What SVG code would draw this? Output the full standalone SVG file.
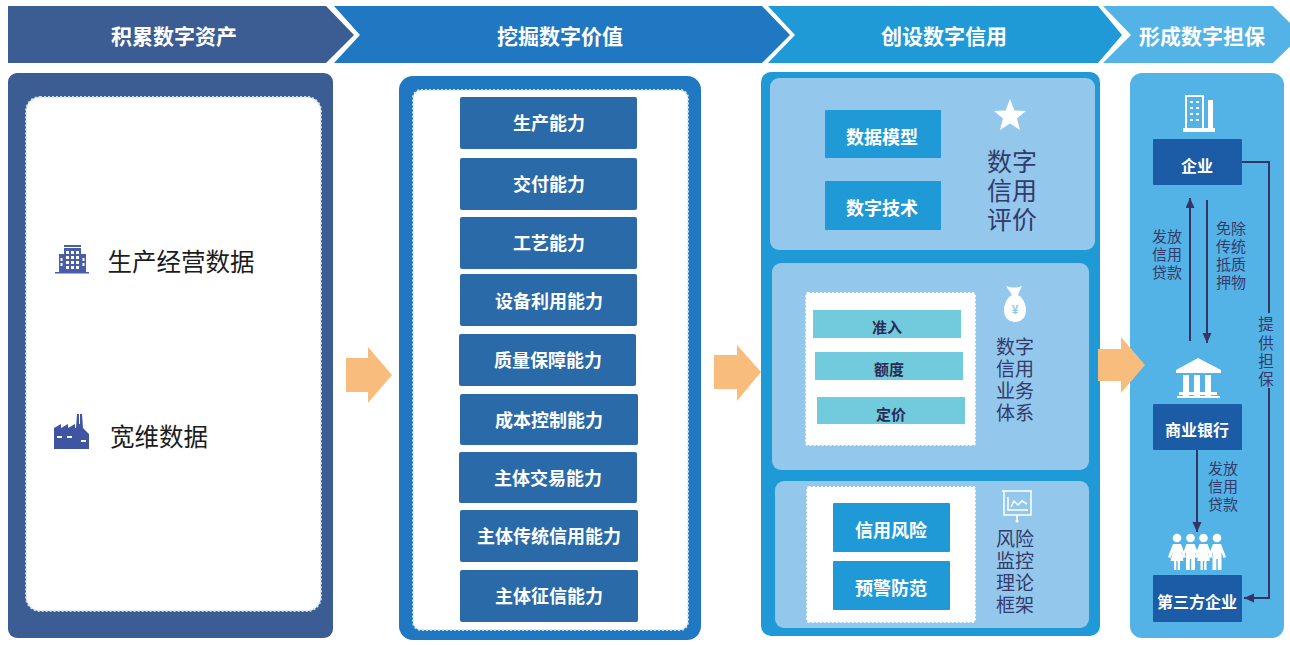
<svg xmlns="http://www.w3.org/2000/svg" width="1290" height="645" viewBox="0 0 1290 645">
<style>
text{font-family:"Liberation Sans","Noto Sans CJK SC",sans-serif;text-anchor:middle}
.h{fill:#fff;font-size:21px;font-weight:700}
.b{fill:#fff;font-size:18px;font-weight:700}
.s{fill:#fff;font-size:16px;font-weight:700}
.bar{fill:#2a6aa9}
.blue{fill:#1f9ad6}
.pale{fill:#93c8ec}
.teal{fill:#71cbdc}
.navy{fill:#1c5ca6}
.w{fill:#fff}
.dash{fill:#fff;stroke:#cfe3f3;stroke-width:2;stroke-dasharray:2 2}
.dash2{fill:#fff;stroke:#fff;stroke-width:2;stroke-dasharray:2 2}
.t1{font-size:24.500px;fill:#1c1c1c}
.t2{font-size:25px;fill:#343a6b}
.t3{font-size:19px;fill:#343a6b}
.t4{font-size:15px;fill:#343a6b}
.t6{font-size:15.500px;fill:#343a6b}
.t5{font-size:15px;font-weight:700;fill:#2a2c56}
.line{fill:none;stroke:#343565;stroke-width:2}
.or{fill:#f8bd7d}
</style>
<defs>
<marker id="ah" markerWidth="12" markerHeight="10" refX="10" refY="4.500" orient="auto" markerUnits="userSpaceOnUse"><path d="M0 0L10 4.500L0 9Z" fill="#343565"/></marker>
</defs>

<g id="header-1"><path d="M8 6H326L354 35L326 63H8Z" fill="#3c5c94"/><text class="h" x="174" y="44">积累数字资产</text></g>
<g id="header-2"><path d="M334 6H762L790 35L762 63H334L360 35Z" fill="#1f78c1"/><text class="h" x="560" y="44">挖掘数字价值</text></g>
<g id="header-3"><path d="M768 6H1098L1122 35L1098 63H768L795 35Z" fill="#1f9ad6"/><text class="h" x="944" y="44">创设数字信用</text></g>
<g id="header-4"><path d="M1103 6H1273L1302 35L1273 63H1103L1131 35Z" fill="#54b3e6"/><text class="h" x="1202" y="44">形成数字担保</text></g>

<g id="panel-assets">
<rect x="8" y="73" width="325" height="565" rx="9" fill="#3c5c94"/>
<rect class="dash" x="26" y="97" width="295" height="514" rx="14"/>
<g id="icon-building" fill="#4a5ea8">
<rect x="64" y="245" width="17" height="2"/><rect x="64" y="248" width="17" height="24"/><rect x="59" y="254" width="5" height="18"/><rect x="81" y="254" width="5" height="18"/><rect x="55" y="272" width="34" height="1.500"/>
<path d="M66 251h3v3h-3zM71 251h3v3h-3zM76 251h3v3h-3zM66 256h3v3h-3zM71 256h3v3h-3zM76 256h3v3h-3zM66 261h3v3h-3zM71 261h3v3h-3zM76 261h3v3h-3zM66 266h3v3h-3zM71 266h3v3h-3zM76 266h3v3h-3zM60.500 258h2v3h-2zM60.500 263h2v3h-2zM82.500 258h2v3h-2zM82.500 263h2v3h-2z" fill="#fff"/>
</g>
<text class="t1" x="181" y="271">生产经营数据</text>
<g id="icon-factory" fill="#3f55a4">
<path d="M54 449V428L61 424V428L68 424V428L75 424V428H76L77 414H79V424H80V414H82L83 428L89 434V449Z"/>
<path d="M57 436h5v2h-5zM67 436h5v2h-5zM81 440h5v2h-5z" fill="#fff"/>
</g>
<text class="t1" x="159" y="446">宽维数据</text>
</g>

<g id="panel-value">
<rect x="399" y="76" width="302" height="564" rx="14" fill="#1f78c1"/>
<rect class="dash" x="413" y="90" width="275" height="540" rx="8"/>
<g id="cap-1"><rect class="bar" x="460" y="97" width="177" height="52" rx="2"/><text class="b" x="549" y="130">生产能力</text></g>
<g id="cap-2"><rect class="bar" x="460" y="158" width="177" height="52" rx="2"/><text class="b" x="549" y="191">交付能力</text></g>
<g id="cap-3"><rect class="bar" x="460" y="217" width="177" height="52" rx="2"/><text class="b" x="549" y="250">工艺能力</text></g>
<g id="cap-4"><rect class="bar" x="460" y="274" width="177" height="52" rx="2"/><text class="b" x="549" y="308">设备利用能力</text></g>
<g id="cap-5"><rect class="bar" x="459" y="334" width="177" height="52" rx="2"/><text class="b" x="548" y="367">质量保障能力</text></g>
<g id="cap-6"><rect class="bar" x="460" y="394" width="178" height="51" rx="2"/><text class="b" x="549" y="427">成本控制能力</text></g>
<g id="cap-7"><rect class="bar" x="459" y="452" width="178" height="51" rx="2"/><text class="b" x="548" y="485">主体交易能力</text></g>
<g id="cap-8"><rect class="bar" x="460" y="510" width="178" height="52" rx="2"/><text class="b" x="549" y="543">主体传统信用能力</text></g>
<g id="cap-9"><rect class="bar" x="460" y="570" width="178" height="52" rx="2"/><text class="b" x="549" y="603">主体征信能力</text></g>
</g>

<g id="panel-credit">
<rect x="761" y="72" width="339" height="564" rx="10" class="blue"/>
<g id="credit-eval">
<rect class="pale" x="770" y="78" width="325" height="172" rx="9"/>
<rect class="blue" x="825" y="110" width="116" height="48" rx="1"/><text class="b" x="882" y="144">数据模型</text>
<rect class="blue" x="825" y="181" width="116" height="49" rx="1"/><text class="b" x="882" y="215">数字技术</text>
<path class="w" d="M1010 99L1014.500 110.500L1026 111L1017 118.500L1020 130L1010 123.500L1000 130L1003 118.500L994 111L1005.500 110.500Z"/>
<text class="t2"><tspan x="1012" y="171">数字</tspan><tspan x="1012" y="200">信用</tspan><tspan x="1012" y="229">评价</tspan></text>
</g>
<g id="credit-business">
<rect class="pale" x="772" y="263" width="317" height="207" rx="9"/>
<rect class="dash2" x="806" y="293" width="169" height="152" rx="2"/>
<rect class="teal" x="813" y="310" width="148" height="28"/><text class="t5" x="887" y="333">准入</text>
<rect class="teal" x="815" y="352" width="148" height="28"/><text class="t5" x="889" y="375">额度</text>
<rect class="teal" x="817" y="397" width="148" height="27"/><text class="t5" x="891" y="420">定价</text>
<path class="w" d="M1006 286Q1014 289 1022 286L1018 295L1021 297Q1026 303 1026 310Q1026 321 1015 322Q1004 321 1004 310Q1004 303 1009 297L1012 295Z"/>
<text x="1015" y="314" font-size="12" font-weight="700" fill="#93c8ec">¥</text>
<text class="t3"><tspan x="1015" y="354">数字</tspan><tspan x="1015" y="376">信用</tspan><tspan x="1015" y="398">业务</tspan><tspan x="1015" y="420">体系</tspan></text>
</g>
<g id="credit-risk">
<rect class="pale" x="775" y="481" width="314" height="147" rx="9"/>
<rect class="dash2" x="807" y="487" width="168" height="135" rx="2"/>
<rect class="blue" x="833" y="503" width="117" height="49" rx="1"/><text class="b" x="891" y="537">信用风险</text>
<rect class="blue" x="833" y="561" width="117" height="49" rx="1"/><text class="b" x="891" y="595">预警防范</text>
<g fill="none" stroke="#fff" stroke-width="1.500"><path d="M1002 491H1032M1004 491V515H1031V491M1017 515V521M1011 507L1014 501L1018 505L1022 501L1027 504M1008 497V510H1028"/></g>
<circle class="w" cx="1017" cy="521" r="1.500"/>
<text class="t3"><tspan x="1015" y="546">风险</tspan><tspan x="1015" y="568">监控</tspan><tspan x="1015" y="590">理论</tspan><tspan x="1015" y="612">框架</tspan></text>
</g>
</g>

<g id="panel-guarantee">
<rect x="1130" y="73" width="154" height="565" rx="12" fill="#54b3e6"/>
<g id="node-enterprise">
<g class="w"><path d="M1185 95H1204V128H1208V100H1213V128H1215V132H1183V128H1185ZM1187 97V128H1202V97Z" fill-rule="evenodd"/><path d="M1190 101h3v2h-3zM1196 101h3v2h-3zM1190 107h3v2h-3zM1196 107h3v2h-3zM1190 113h3v2h-3zM1196 113h3v2h-3zM1190 119h3v2h-3zM1196 119h3v2h-3z"/></g>
<rect class="navy" x="1153" y="139" width="89" height="46" rx="1"/><text class="s" x="1197" y="172">企业</text>
</g>
<g id="node-bank">
<g class="w"><path d="M1198 358L1221 370V373H1176V370Z"/><rect x="1183" y="375" width="6" height="21"/><rect x="1194" y="375" width="6" height="21"/><rect x="1205" y="375" width="6" height="21"/><rect x="1179" y="392" width="38" height="3"/><rect x="1177" y="396" width="43" height="2"/></g>
<rect class="navy" x="1153" y="404" width="89" height="46" rx="1"/><text class="s" x="1197" y="436">商业银行</text>
</g>
<g id="node-third">
<g class="w">
<circle cx="1177" cy="538" r="4.300"/><circle cx="1190.500" cy="538" r="4.300"/><circle cx="1203.500" cy="538" r="4.300"/><circle cx="1217" cy="538" r="4.300"/>
<path d="M1173 544H1181L1186 557L1183.500 558L1181 551L1183.500 561H1180V570H1177.700V561H1176.300V570H1174V561H1170.500L1173 551L1170.500 558L1168 557Z"/>
<path d="M1199.500 544H1207.500L1212.500 557L1210 558L1207.500 551L1210 561H1206.500V570H1204.200V561H1202.800V570H1200.500V561H1197L1199.500 551L1197 558L1194.500 557Z"/>
<path d="M1186.500 544H1194.500L1199.500 557L1197 558L1195 552V570H1191.200V559H1189.800V570H1186V552L1184 558L1181.500 557Z"/>
<path d="M1213 544H1221L1226 557L1223.500 558L1221.500 552V570H1217.700V559H1216.300V570H1212.500V552L1210.500 558L1208 557Z"/>
</g>
<rect class="navy" x="1153" y="575" width="89" height="47" rx="1"/><text class="s" x="1197" y="608">第三方企业</text>
</g>
<text id="label-loan-1" class="t4"><tspan x="1167" y="242">发放</tspan><tspan x="1167" y="260">信用</tspan><tspan x="1167" y="278">贷款</tspan></text>
<text id="label-exempt" class="t4"><tspan x="1231" y="234">免除</tspan><tspan x="1231" y="252">传统</tspan><tspan x="1231" y="270">抵质</tspan><tspan x="1231" y="288">押物</tspan></text>
<text id="label-loan-2" class="t4"><tspan x="1223" y="474">发放</tspan><tspan x="1223" y="492">信用</tspan><tspan x="1223" y="510">贷款</tspan></text>
<text id="label-guarantee" class="t6"><tspan x="1266" y="330">提</tspan><tspan x="1266" y="349">供</tspan><tspan x="1266" y="367">担</tspan><tspan x="1266" y="385">保</tspan></text>
</g>

<g id="connectors">
<path class="or" d="M346 358H368V347L392 375L368 403V392H346Z"/>
<path class="or" d="M714 355H737V345L761 372L737 401V389H714Z"/>
<path class="or" d="M1098 349H1121V337L1145 365L1121 393V381H1098Z"/>
<path class="line" d="M1190 341V198" marker-end="url(#ah)"/>
<path class="line" d="M1207 200V343" marker-end="url(#ah)"/>
<path class="line" d="M1197 450V532" marker-end="url(#ah)"/>
<path class="line" d="M1242 162H1269V313"/>
<path class="line" d="M1269 388V598H1244" marker-end="url(#ah)"/>
</g>
</svg>
